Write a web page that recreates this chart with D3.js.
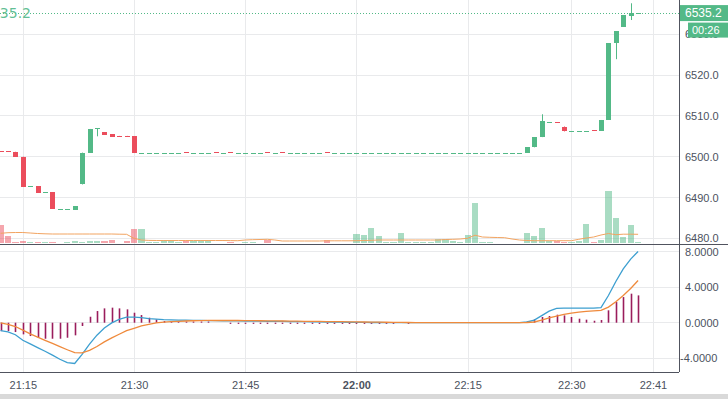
<!DOCTYPE html>
<meta charset="utf-8">
<style>
  body { margin: 0; background: #fff; }
  svg { display: block; font-family: "Liberation Sans", Arial, sans-serif; }
</style>
<svg width="728" height="399"></svg>

<script src="https://d3js.org/d3.v7.min.js"></script>
<script>

// one-minute bars, 21:12 .. 22:39 (index based, one minute missing after 22:15)
var opens = [
  6501.3, 6501.3, 6501.2, 6500.0, 6492.8, 6492.8, 6491.3, 6491.3, 6487.2, 6487.2,
  6487.0, 6493.2, 6501.0, 6507.0, 6506.0, 6505.5, 6505.1, 6505.1, 6505.0, 6501.0,
  6501.0, 6501.0, 6501.0, 6501.0, 6501.0, 6501.1, 6501.0, 6501.0, 6501.0, 6501.1,
  6501.0, 6501.1, 6501.0, 6501.0, 6501.0, 6501.0, 6501.1, 6501.0, 6501.1, 6501.0,
  6501.0, 6501.0, 6501.0, 6501.0, 6501.1, 6501.0, 6501.0, 6501.0, 6501.0, 6501.0,
  6501.0, 6501.0, 6501.0, 6501.0, 6501.0, 6501.0, 6501.0, 6501.0, 6501.0, 6501.0,
  6501.0, 6501.0, 6501.0, 6501.0, 6501.0, 6501.0, 6501.0, 6501.0, 6501.0, 6501.0,
  6501.0, 6501.0, 6502.3, 6504.8, 6508.5, 6508.5, 6507.4, 6506.4, 6506.4, 6506.4,
  6506.5, 6506.4, 6509.0, 6527.8, 6531.9, 6534.5, 6535.2
]
var closes = [
  6501.2, 6501.2, 6500.0, 6492.6, 6492.8, 6491.1, 6491.3, 6487.2, 6487.2, 6487.2,
  6487.8, 6501.0, 6506.8, 6507.0, 6505.4, 6504.9, 6505.0, 6505.0, 6500.9, 6501.0,
  6501.0, 6501.0, 6501.0, 6501.0, 6501.0, 6501.0, 6501.0, 6501.0, 6501.0, 6501.0,
  6501.0, 6501.0, 6501.0, 6501.0, 6501.0, 6501.0, 6501.0, 6501.0, 6501.0, 6501.0,
  6501.0, 6501.0, 6501.0, 6501.0, 6501.0, 6501.0, 6501.0, 6501.0, 6501.0, 6501.0,
  6501.0, 6501.0, 6501.0, 6501.0, 6501.0, 6501.0, 6501.0, 6501.0, 6501.0, 6501.0,
  6501.0, 6501.0, 6501.0, 6501.0, 6501.0, 6501.0, 6501.0, 6501.0, 6501.0, 6501.0,
  6501.0, 6502.3, 6504.8, 6508.7, 6508.5, 6508.4, 6506.2, 6506.4, 6506.4, 6506.4,
  6506.4, 6509.0, 6527.8, 6530.8, 6534.7, 6535.2, 6535.2
]
// [bar, high, low] where the wick goes beyond the body
var wicks = [[13, 6507.0, 6505.0], [73, 6510.4, null], [83, null, 6523.9], [85, 6537.6, 6533.5]]

var volumes = [
  18, 7, 1, 2.3, 1.3, 0.8, 1, 1, 0.5, 1,
  2, 1.5, 2, 2, 2, 2.7, 0.5, 2, 13.7, 13.7,
  1, 1, 2.7, 2.7, 1, 2, 2, 3, 3, 0.5,
  0.5, 1, 0.5, 1.5, 1, 0.5, 2.7, 0.5, 0.5, 0.5,
  0.5, 0.5, 0.5, 0.5, 3, 0.5, 0.5, 0.5, 9, 8,
  14.7, 7, 1, 1, 10, 1, 1, 1, 1, 4,
  4, 2, 1, 8, 39.7, 1, 1, 0.5, 0.5, 0.5,
  0.5, 10.3, 7, 14.7, 2, 2, 1, 1, 2, 19,
  1, 3, 52, 24.7, 6.3, 18, 0.7
]
var volumeMA = [
  9.7, 10.3, 10.5, 10.5, 10, 9.5, 9.2, 9, 9, 9,
  9, 9, 9, 9, 9, 9, 8.8, 8.7, 4.7, 3,
  2.6, 2.5, 2.5, 2.5, 2.5, 2.5, 2.5, 2.5, 2.5, 2.5,
  2.5, 2.4, 2.3, 3, 3.3, 3.5, 3.7, 3, 2, 2,
  2, 2, 2, 2, 2.2, 2.2, 2.2, 2.2, 2.3, 2.5,
  2.7, 3, 3, 3, 3, 3, 3, 3, 3, 3,
  3.5, 3.7, 4, 4.7, 7.8, 6, 5.7, 5.5, 5.3, 4,
  3, 2.5, 2.3, 2.3, 2.3, 2.3, 2.3, 2.3, 3.7, 5,
  6, 8, 9.5, 8.3, 8.8, 8.8, 8.7
]

var macd = [
  -0.88, -1.03, -1.35, -1.97, -2.38, -2.80, -3.21, -3.65, -4.11, -4.48,
  -4.58, -3.55, -2.41, -1.40, -0.60, -0.02, 0.38, 0.62, 0.62, 0.56,
  0.45, 0.40, 0.35, 0.32, 0.30, 0.28, 0.26, 0.25, 0.24, 0.23,
  0.22, 0.21, 0.20, 0.19, 0.18, 0.17, 0.16, 0.15, 0.14, 0.13,
  0.12, 0.11, 0.10, 0.09, 0.08, 0.07, 0.06, 0.05, 0.04, 0.03,
  0.02, 0.02, 0.01, 0.01, 0, 0, 0, 0, 0, 0,
  0, 0, 0, 0, 0, 0, 0, 0, 0, 0,
  0, 0.08, 0.30, 0.80, 1.30, 1.60, 1.63, 1.63, 1.63, 1.63,
  1.63, 1.70, 3.06, 4.63, 6.05, 7.15, 8.0
]
var signal = [
  -0.02, -0.19, -0.43, -0.84, -1.25, -1.62, -1.98, -2.33, -2.69, -3.04,
  -3.37, -3.38, -3.10, -2.68, -2.16, -1.71, -1.30, -0.90, -0.63, -0.36,
  -0.19, -0.02, 0.06, 0.12, 0.16, 0.19, 0.22, 0.24, 0.25, 0.25,
  0.25, 0.25, 0.25, 0.24, 0.23, 0.22, 0.21, 0.20, 0.19, 0.18,
  0.17, 0.16, 0.15, 0.14, 0.13, 0.12, 0.11, 0.10, 0.09, 0.08,
  0.07, 0.06, 0.05, 0.04, 0.03, 0.02, 0.01, 0, 0, 0,
  0, 0, 0, 0, 0, 0, 0, 0, 0, 0,
  0, 0.02, 0.08, 0.30, 0.53, 0.74, 0.93, 1.08, 1.19, 1.28,
  1.33, 1.38, 1.75, 2.35, 3.05, 3.85, 4.74
]
var hist = [
  -0.94, -0.94, -1.05, -1.31, -1.50, -1.69, -1.80, -1.80, -1.80, -1.69,
  -1.42, -0.37, 0.67, 1.31, 1.61, 1.69, 1.61, 1.50, 1.12, 0.86,
  0.56, 0.37, 0.19, 0.07, 0.05, 0.04, 0.03, 0.02, 0.01, 0,
  0, -0.05, -0.05, -0.05, -0.05, -0.05, -0.05, -0.05, -0.05, -0.05,
  -0.05, -0.05, -0.05, -0.05, -0.05, -0.05, -0.05, -0.04, -0.05, -0.05,
  -0.05, -0.05, -0.05, -0.05, 0, -0.05, 0, 0, 0, 0,
  0, 0, 0, 0, 0, 0, 0, 0, 0, 0,
  0, 0.05, 0.37, 0.64, 0.75, 0.90, 0.82, 0.64, 0.45, 0.34,
  0.22, 0.30, 1.39, 2.32, 2.88, 3.26, 3.07
]

var tickBars = [3, 18, 33, 48, 63, 77, 88]
var tickLabels = ["21:15", "21:30", "21:45", "22:00", "22:15", "22:30", "22:41"]
var priceTicks = [6480, 6490, 6500, 6510, 6520, 6530]
var macdTicks = [-4, 0, 4, 8]
var lastPrice = 6535.2
var countdown = "00:26"

var UP = "#53b987", DOWN = "#eb4d5c"
var GRID = "#e9eaec", AXIS = "#50535e", TEXT = "#4c525e"
var plotRight = 679, mainBottom = 244, macdTop = 245, macdBottom = 372

var bars = opens.map(function (o, i) {
  var c = closes[i]
  return { i: i, open: o, close: c, high: Math.max(o, c), low: Math.min(o, c),
           vol: volumes[i], up: c >= o }
})
wicks.forEach(function (w) {
  if (w[1] != null) bars[w[0]].high = w[1]
  if (w[2] != null) bars[w[0]].low = w[2]
})

var svg = d3.select("svg")

// bar index -> pixel, price -> pixel, etc.
var x = d3.scaleLinear().domain([-0.076, 91.52]).range([0, plotRight])
var y = d3.scaleLinear().domain([6480, 6530]).range([238.3, 34.3])
var yVol = d3.scaleLinear().domain([0, d3.max(volumes)]).range([243, 191])
var yMacd = d3.scaleLinear().domain([-4, 8]).range([358.3, 251.5])

svg.append("clipPath").attr("id", "mainClip")
  .append("rect").attr("x", 0).attr("y", 0).attr("width", plotRight).attr("height", mainBottom)
svg.append("clipPath").attr("id", "macdClip")
  .append("rect").attr("x", 0).attr("y", macdTop).attr("width", plotRight).attr("height", macdBottom - macdTop)

// grid
var grid = svg.append("g").attr("stroke", GRID).attr("stroke-width", 1).attr("shape-rendering", "crispEdges")
grid.selectAll(".v").data(tickBars).enter().append("line")
  .attr("x1", function (d) { return Math.round(x(d)) + 0.5 })
  .attr("x2", function (d) { return Math.round(x(d)) + 0.5 })
  .attr("y1", 0).attr("y2", macdBottom)
grid.selectAll(".p").data(priceTicks).enter().append("line")
  .attr("x1", 0).attr("x2", plotRight)
  .attr("y1", function (d) { return y(d) }).attr("y2", function (d) { return y(d) })
grid.selectAll(".m").data(macdTicks).enter().append("line")
  .attr("x1", 0).attr("x2", plotRight)
  .attr("y1", function (d) { return yMacd(d) }).attr("y2", function (d) { return yMacd(d) })

var main = svg.append("g").attr("clip-path", "url(#mainClip)")

// volume
main.append("g").attr("shape-rendering", "crispEdges")
  .selectAll("rect").data(bars).enter().append("rect")
  .attr("x", function (d) { return x(d.i) - 3 })
  .attr("width", 6.2)
  .attr("y", function (d) { return yVol(d.vol) })
  .attr("height", function (d) { return yVol(0) - yVol(d.vol) })
  .attr("fill", function (d) { return d.up ? "rgba(83,185,135,0.5)" : "rgba(235,77,92,0.5)" })

main.append("path")
  .datum(volumeMA)
  .attr("fill", "none").attr("stroke", "#f2a461").attr("stroke-width", 1)
  .attr("d", d3.line().x(function (d, i) { return x(i) }).y(function (d) { return yVol(d) }))

// candles
var candles = main.append("g")
candles.selectAll("line").data(bars).enter().append("line")
  .attr("x1", function (d) { return Math.round(x(d.i)) + 0.5 })
  .attr("x2", function (d) { return Math.round(x(d.i)) + 0.5 })
  .attr("y1", function (d) { return y(d.high) })
  .attr("y2", function (d) { return y(d.low) })
  .attr("stroke", function (d) { return d.up ? UP : DOWN })
candles.selectAll("rect").data(bars).enter().append("rect")
  .attr("shape-rendering", "crispEdges")
  .attr("x", function (d) { return Math.round(x(d.i)) - 2 })
  .attr("width", 5)
  .attr("y", function (d) { return y(Math.max(d.open, d.close)) })
  .attr("height", function (d) { return Math.max(1, Math.abs(y(d.open) - y(d.close))) })
  .attr("fill", function (d) { return d.up ? UP : DOWN })

// last price line
svg.append("line")
  .attr("x1", 0).attr("x2", plotRight)
  .attr("y1", Math.round(y(lastPrice)) + 0.5).attr("y2", Math.round(y(lastPrice)) + 0.5)
  .attr("stroke", UP).attr("stroke-dasharray", "1,2")

// legend value, runs off the left edge like in the source
svg.append("text")
  .attr("x", 31).attr("y", 18)
  .attr("text-anchor", "end")
  .attr("font-size", 14)
  .attr("font-family", "DejaVu Sans, sans-serif")
  .attr("fill", "#63bf95")
  .text(d3.format(".1f")(lastPrice))

// MACD pane
var macdG = svg.append("g").attr("clip-path", "url(#macdClip)")

macdG.append("g").selectAll("line")
  .data(hist.map(function (v, i) { return { i: i, v: v } }).filter(function (d) { return d.v !== 0 }))
  .enter().append("line")
  .attr("x1", function (d) { return Math.round(x(d.i)) + 0.5 })
  .attr("x2", function (d) { return Math.round(x(d.i)) + 0.5 })
  .attr("y1", yMacd(0))
  .attr("y2", function (d) {
    var dy = yMacd(d.v) - yMacd(0)
    return yMacd(0) + (Math.abs(dy) < 1.2 ? (dy < 0 ? -1.2 : 1.2) : dy)
  })
  .attr("stroke", "#9a1d5c").attr("stroke-width", 1.6)

var macdLine = d3.line().x(function (d, i) { return x(i) }).y(function (d) { return yMacd(d) })
macdG.append("path").datum(macd)
  .attr("fill", "none").attr("stroke", "#3d9fd0").attr("stroke-width", 1.3).attr("d", macdLine)
macdG.append("path").datum(signal)
  .attr("fill", "none").attr("stroke", "#ef8a3c").attr("stroke-width", 1.3).attr("d", macdLine)

// axes frame
var frame = svg.append("g").attr("stroke", AXIS).attr("shape-rendering", "crispEdges")
frame.append("line").attr("x1", plotRight + 0.5).attr("x2", plotRight + 0.5).attr("y1", 0).attr("y2", macdBottom)
frame.append("line").attr("x1", 0).attr("x2", 728).attr("y1", mainBottom + 0.5).attr("y2", mainBottom + 0.5)
frame.append("line").attr("x1", 0).attr("x2", plotRight).attr("y1", macdBottom + 0.5).attr("y2", macdBottom + 0.5)

var priceAxis = svg.append("g")
  .attr("transform", "translate(" + plotRight + ",0)")
  .call(d3.axisRight(y).tickValues(priceTicks).tickSize(0).tickPadding(6).tickFormat(d3.format(".1f")))
var macdAxis = svg.append("g")
  .attr("transform", "translate(" + plotRight + ",0)")
  .call(d3.axisRight(yMacd).tickValues(macdTicks).tickSize(0).tickPadding(6)
    .tickFormat(function (d) { return (d < 0 ? "-" : "") + d3.format(".4f")(Math.abs(d)) }))
macdAxis.selectAll("text").filter(function (d) { return d < 0 }).attr("x", 1)

var timeAxis = svg.append("g")
  .attr("transform", "translate(0," + macdBottom + ")")
  .call(d3.axisBottom(x).tickValues(tickBars).tickSize(0).tickPadding(9)
    .tickFormat(function (d, i) { return tickLabels[i] }))
timeAxis.selectAll("text").filter(function (d, i) { return tickLabels[i] === "22:00" }).attr("font-weight", "bold")

;[priceAxis, macdAxis, timeAxis].forEach(function (a) {
  a.select(".domain").remove()
  a.selectAll("text").attr("fill", TEXT).attr("font-size", 11)
    .attr("font-family", "Liberation Sans, Arial, sans-serif")
})

// price / countdown tags
var ty = y(lastPrice)
svg.append("rect").attr("x", plotRight + 1).attr("y", ty - 8).attr("width", 728 - plotRight).attr("height", 16).attr("fill", UP)
svg.append("text").attr("x", plotRight + 6).attr("y", ty + 4).attr("fill", "#fff").attr("font-size", 12)
  .text(d3.format(".1f")(lastPrice))
svg.append("rect").attr("x", 688).attr("y", ty + 9.5).attr("width", 40).attr("height", 15).attr("fill", UP)
svg.append("text").attr("x", 692).attr("y", ty + 21).attr("fill", "#fff").attr("font-size", 11)
  .text(countdown)

// bottom strip
svg.append("rect").attr("x", 0).attr("y", 394).attr("width", 728).attr("height", 5).attr("fill", "#d9d9d9")

</script>
